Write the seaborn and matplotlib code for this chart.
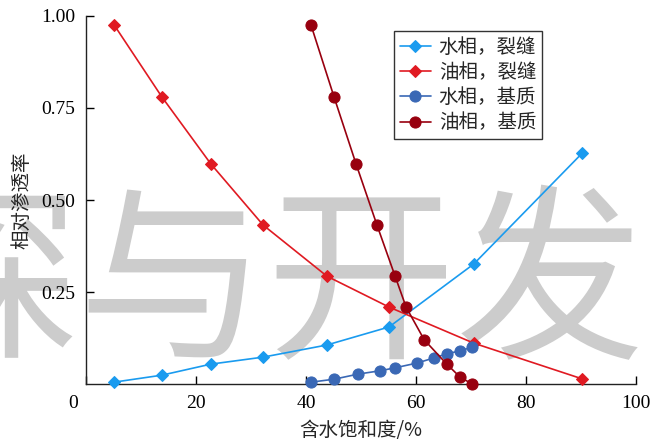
import numpy as np
import pandas as pd
import seaborn as sns
import matplotlib.pyplot as plt
import matplotlib.transforms as mtransforms

# fracture curves (water / oil)
sw_frac = [5.1, 13.8, 22.7, 32.2, 43.8, 55.1, 70.5, 90.2]
krw_frac = [0.005, 0.024, 0.054, 0.073, 0.106, 0.155, 0.326, 0.627]
kro_frac = [0.976, 0.780, 0.598, 0.432, 0.293, 0.209, 0.111, 0.014]

# matrix curves
sw_mat_w = [40.9, 45.1, 49.5, 53.5, 56.2, 60.2, 63.3, 65.6, 68.0, 70.2]
krw_mat = [0.005, 0.013, 0.027, 0.036, 0.044, 0.057, 0.071, 0.082, 0.090, 0.100]
sw_mat_o = [40.9, 45.1, 49.1, 52.9, 56.2, 58.2, 61.5, 65.6, 68.0, 70.2]
kro_mat = [0.976, 0.780, 0.598, 0.432, 0.293, 0.209, 0.120, 0.054, 0.019, 0.0]

labels = ["水相，裂缝", "油相，裂缝", "水相，基质", "油相，基质"]
colors = ["#1A9BEF", "#E01A22", "#3A68B5", "#98000F"]
markers = ["D", "D", "o", "o"]
msizes = [6.5, 6, 8, 8]

xticks = [0, 20, 40, 60, 80, 100]
yticks = [0.25, 0.50, 0.75, 1.00]

sns.set_style("ticks")
plt.rcParams["font.family"] = ["Liberation Serif", "Noto Sans CJK SC", "DejaVu Sans"]

fig = plt.figure(figsize=(6.71, 4.40), dpi=100)
ax = fig.add_axes([86 / 671, 56 / 440, 550 / 671, 368 / 440])

series = [(sw_frac, krw_frac), (sw_frac, kro_frac), (sw_mat_w, krw_mat), (sw_mat_o, kro_mat)]
for (x, y), lab, c, m, ms in zip(series, labels, colors, markers, msizes):
    df = pd.DataFrame({"sw": x, "kr": y})
    sns.lineplot(data=df, x="sw", y="kr", ax=ax, color=c, marker=m, markersize=ms,
                 markeredgecolor=c, linewidth=1.2, label=lab, zorder=3, clip_on=False)

# watermark
ax.text(267 / 671, 1 - 290 / 440, "探与开发", transform=fig.transFigure,
        fontsize=136, color="#CCCCCC", ha="center", va="center",
        family=["Noto Sans CJK SC"], zorder=0, clip_on=False)

ax.set_xlim(0, 100)
ax.set_ylim(0, 1.0)
ax.set_xticks(xticks)
ax.set_xticklabels([str(t) for t in xticks], family="Liberation Serif")
ax.set_yticks(yticks)
ax.set_yticklabels(["%.2f" % t for t in yticks], family="Liberation Serif")
ax.tick_params(direction="in", length=6, width=1, labelsize=14, pad=8, colors="black")
ax.set_xlabel("含水饱和度/%", fontsize=14, family=["Noto Sans CJK SC"], labelpad=6)
ax.set_ylabel("相对渗透率", fontsize=14, family=["Noto Sans CJK SC"], labelpad=6)
for s in ["top", "right"]:
    ax.spines[s].set_visible(False)
for s in ["left", "bottom"]:
    ax.spines[s].set_linewidth(1)
    ax.spines[s].set_color("#222222")
ax.patch.set_alpha(0)

# shift the "0" label left like the origin label in the source
lbl0 = ax.get_xticklabels()[0]
lbl0.set_transform(lbl0.get_transform() + mtransforms.ScaledTranslation(-13 / 100, 0, fig.dpi_scale_trans))

leg = ax.legend(loc="upper left", bbox_to_anchor=(0.56, 0.96),
                prop={"family": ["Noto Sans CJK SC"], "size": 14},
                frameon=True, fancybox=False, edgecolor="black", handlelength=1.6,
                handletextpad=0.4, labelspacing=0.22, borderpad=0.3, borderaxespad=0)
leg.get_frame().set_linewidth(1)

fig.savefig("out.png", dpi=100)
